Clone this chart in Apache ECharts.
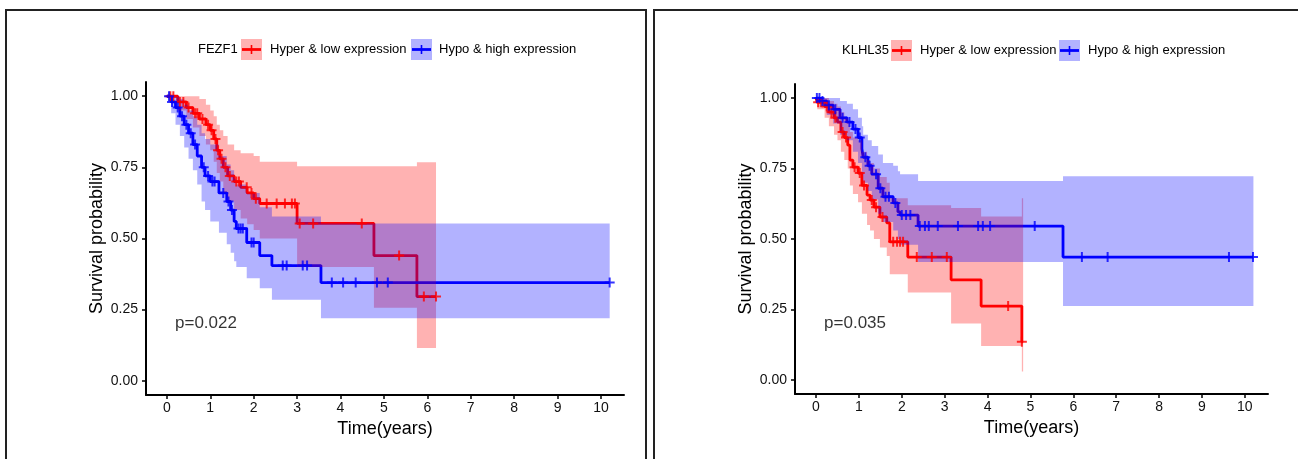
<!DOCTYPE html>
<html><head><meta charset="utf-8">
<script src="https://cdn.jsdelivr.net/npm/echarts@6/dist/echarts.min.js"></script>
<style>html,body{margin:0;padding:0;background:#fff}#c{width:1298px;height:459px}</style>
</head><body><div id="c"></div>
<script>
// ---------- data ----------
const xTicks = [0,1,2,3,4,5,6,7,8,9,10];
const yTicks = [0,0.25,0.5,0.75,1];
const groupNames = ['Hyper & low expression','Hypo & high expression'];
const geneNames = ['FEZF1','KLHL35'];
const pValues = ['p=0.022','p=0.035'];
const xTitle = 'Time(years)';
const yTitle = 'Survival probability';

// FEZF1 - Hyper & low expression
const fezf1HyperTime  = [0,0.25,0.45,0.6,0.75,0.9,1.0,1.08,1.15,1.22,1.3,1.4,1.55,1.7,1.85,2.0,2.14,3.0,4.77,5.76,6.2];
const fezf1HyperSurv  = [1.0,0.98,0.96,0.94,0.92,0.90,0.88,0.85,0.81,0.78,0.75,0.72,0.70,0.68,0.66,0.64,0.623,0.553,0.44,0.296,0.296];
const fezf1HyperUpper = [1.0,1.0,1.0,1.0,0.99,0.97,0.95,0.93,0.90,0.88,0.86,0.83,0.81,0.80,0.80,0.79,0.77,0.754,0.754,0.768,0.768];
const fezf1HyperLower = [1.0,0.95,0.92,0.89,0.86,0.83,0.81,0.77,0.73,0.70,0.66,0.63,0.60,0.57,0.55,0.53,0.50,0.40,0.257,0.115,0.115];
const fezf1HyperCensor = [0.08,0.15,0.3,0.38,0.5,0.65,0.7,0.82,0.95,1.03,1.12,1.18,1.26,1.35,1.45,1.6,1.66,1.84,1.95,2.05,2.3,2.53,2.72,2.88,2.95,3.06,3.37,4.49,5.35,5.92,6.2];

// FEZF1 - Hypo & high expression
const fezf1HypoTime  = [0,0.1,0.2,0.3,0.4,0.5,0.6,0.7,0.8,0.88,1.0,1.2,1.38,1.47,1.55,1.6,1.84,2.14,2.42,3.55,10.2];
const fezf1HypoSurv  = [1.0,0.98,0.96,0.93,0.90,0.87,0.83,0.79,0.75,0.72,0.70,0.66,0.63,0.60,0.56,0.535,0.486,0.44,0.405,0.345,0.345];
const fezf1HypoUpper = [1.0,1.0,1.0,0.99,0.97,0.95,0.93,0.90,0.87,0.85,0.83,0.79,0.76,0.74,0.71,0.69,0.66,0.61,0.577,0.553,0.553];
const fezf1HypoLower = [1.0,0.94,0.90,0.86,0.82,0.78,0.74,0.69,0.63,0.60,0.56,0.52,0.48,0.45,0.42,0.40,0.36,0.325,0.285,0.22,0.22];
const fezf1HypoCensor = [0.05,0.12,0.25,0.35,0.45,0.55,0.65,0.85,0.95,1.05,1.1,1.3,1.42,1.5,1.65,1.7,1.75,1.95,2.0,2.67,2.76,3.13,3.23,3.8,4.06,4.35,4.84,5.09,10.2];

// KLHL35 - Hyper & low expression
const klhl35HyperTime  = [0,0.03,0.2,0.3,0.42,0.5,0.58,0.66,0.74,0.79,0.86,0.98,1.07,1.19,1.26,1.35,1.49,1.65,1.72,2.14,3.15,3.85,4.8,4.83];
const klhl35HyperSurv  = [1.0,0.985,0.97,0.95,0.93,0.915,0.88,0.86,0.833,0.78,0.755,0.734,0.69,0.656,0.638,0.613,0.578,0.557,0.49,0.436,0.355,0.262,0.135,0.135];
const klhl35HyperUpper = [1.0,1.0,1.0,0.99,0.98,0.97,0.95,0.93,0.915,0.88,0.86,0.85,0.81,0.78,0.77,0.75,0.72,0.70,0.645,0.62,0.61,0.58,0.645,0.645];
const klhl35HyperLower = [1.0,0.96,0.93,0.90,0.87,0.85,0.81,0.78,0.75,0.69,0.66,0.63,0.59,0.55,0.53,0.50,0.47,0.44,0.375,0.31,0.2,0.12,0.03,0.03];
const klhl35HyperCensor = [0.05,0.12,0.25,0.36,0.45,0.62,0.7,0.9,1.02,1.12,1.3,1.4,1.55,1.8,1.89,1.96,2.03,2.35,2.7,3.05,4.48,4.8];

// KLHL35 - Hypo & high expression
const klhl35HypoTime  = [0,0.1,0.25,0.4,0.56,0.72,0.86,0.98,1.07,1.1,1.21,1.3,1.45,1.56,1.8,1.91,1.96,2.38,5.76,10.2];
const klhl35HypoSurv  = [1.0,0.99,0.975,0.96,0.93,0.915,0.89,0.86,0.82,0.79,0.76,0.73,0.68,0.65,0.628,0.596,0.585,0.546,0.436,0.436];
const klhl35HypoUpper = [1.0,1.0,1.0,1.0,0.99,0.98,0.96,0.93,0.90,0.87,0.85,0.83,0.80,0.77,0.76,0.74,0.73,0.706,0.723,0.723];
const klhl35HypoLower = [1.0,0.97,0.94,0.91,0.87,0.85,0.81,0.77,0.73,0.70,0.67,0.64,0.59,0.56,0.53,0.50,0.48,0.418,0.262,0.262];
const klhl35HypoCensor = [0.02,0.08,0.15,0.3,0.45,0.62,0.78,0.92,1.02,1.15,1.25,1.4,1.5,1.62,1.7,1.85,2.0,2.1,2.2,2.42,2.54,2.63,2.84,3.31,3.78,3.89,4.06,5.1,6.2,6.8,9.63,10.19];

// ---------- styles ----------
const FONT = "'Liberation Sans', Arial, sans-serif";
const RED = '#FF0000', BLUE = '#0000FF';
const RED_FILL = 'rgba(255,0,0,0.3)', BLUE_FILL = 'rgba(0,0,255,0.3)';
const PLUS = 'path://M4,0 H6 V4 H10 V6 H6 V10 H4 V6 H0 V4 H4 Z';

function stepValue(times, surv, t) {
  let v = surv[0];
  for (let i = 0; i < times.length; i++) { if (times[i] <= t + 1e-9) v = surv[i]; }
  return v;
}
function lineSeries(name, times, surv, color, ai) {
  return { type:'line', name, xAxisIndex:ai, yAxisIndex:ai, step:'end', symbol:'none', z:2, silent:true,
    lineStyle:{ color, width:2.8 }, data: times.map((t,i)=>[t, surv[i]]) };
}
function bandSeries(times, upper, lower, fill, ai) {
  return { type:'custom', xAxisIndex:ai, yAxisIndex:ai, z:3, silent:true, clip:false,
    data:[[times[0], upper[0]]],
    renderItem: function(params, api) {
      const pts = [];
      for (let i = 0; i < times.length - 1; i++) {
        pts.push(api.coord([times[i], upper[i]]), api.coord([times[i+1], upper[i]]));
      }
      for (let i = times.length - 2; i >= 0; i--) {
        pts.push(api.coord([times[i+1], lower[i]]), api.coord([times[i], lower[i]]));
      }
      return { type:'polygon', shape:{ points: pts }, style:{ fill, stroke:null } };
    } };
}
function censorSeries(times, surv, censor, color, ai) {
  return { type:'scatter', xAxisIndex:ai, yAxisIndex:ai, z:4, silent:true, symbol:PLUS, symbolSize:10,
    itemStyle:{ color }, data: censor.map(t=>[t, stepValue(times, surv, t)]) };
}
function pvalSeries(text, ai) {
  return { type:'scatter', xAxisIndex:ai, yAxisIndex:ai, z:5, silent:true, symbolSize:1,
    itemStyle:{ color:'rgba(0,0,0,0)' },
    label:{ show:true, position:[0,0], align:'left', verticalAlign:'middle', formatter:text,
      fontSize:17, color:'#000', fontFamily:FONT },
    data:[[0.2, 0.2]] };
}
function xAxis(gi, min, max) {
  return { type:'value', gridIndex:gi, min, max, name:xTitle, nameLocation:'middle', nameGap:21,
    nameTextStyle:{ fontSize:18, color:'#000', fontFamily:FONT },
    axisLine:{ show:true, onZero:false, lineStyle:{ color:'#000', width:2 } },
    axisTick:{ show:true, customValues:xTicks, length:4, lineStyle:{ color:'#000', width:1.5 } },
    axisLabel:{ customValues:xTicks, fontSize:14, color:'#111', fontFamily:FONT, margin:6 },
    splitLine:{ show:false } };
}
function yAxis(gi) {
  return { type:'value', gridIndex:gi, min:-0.05, max:1.05, name:yTitle, nameLocation:'middle', nameGap:40,
    nameTextStyle:{ fontSize:18, color:'#000', fontFamily:FONT },
    axisLine:{ show:true, onZero:false, lineStyle:{ color:'#000', width:2 } },
    axisTick:{ show:true, customValues:yTicks, length:4, lineStyle:{ color:'#000', width:1.5 } },
    axisLabel:{ customValues:yTicks, fontSize:14, color:'#111', fontFamily:FONT, margin:8,
      formatter: v => v.toFixed(2) },
    splitLine:{ show:false } };
}
function legendGraphics(x, y, gene, keyX1, textX1, keyX2, textX2) {
  const els = [];
  els.push({ type:'text', left:x, top:y-6, style:{ text:gene, fontSize:13, fill:'#000', fontFamily:FONT } });
  [[keyX1, textX1, RED, RED_FILL, groupNames[0]], [keyX2, textX2, BLUE, BLUE_FILL, groupNames[1]]].forEach(k => {
    els.push({ type:'rect', shape:{ x:k[0], y:y-10, width:21, height:21 }, style:{ fill:k[3] } });
    els.push({ type:'line', shape:{ x1:k[0]+1, y1:y+0.5, x2:k[0]+20, y2:y+0.5 }, style:{ stroke:k[2], lineWidth:2.8 } });
    els.push({ type:'line', shape:{ x1:k[0]+10.5, y1:y-4, x2:k[0]+10.5, y2:y+5 }, style:{ stroke:k[2], lineWidth:1.6 } });
    els.push({ type:'text', left:k[1], top:y-6, style:{ text:k[4], fontSize:13, fill:'#000', fontFamily:FONT } });
  });
  return els;
}

const chart = echarts.init(document.getElementById('c'));
chart.setOption({
  animation:false,
  backgroundColor:'#fff',
  grid:[
    { left:146, top:82, width:478, height:313 },
    { left:795, top:84, width:473, height:310 }
  ],
  xAxis:[ xAxis(0, -0.48, 10.53), xAxis(1, -0.49, 10.54) ],
  yAxis:[ yAxis(0), yAxis(1) ],
  graphic:[
    { type:'rect', shape:{ x:6, y:10, width:640, height:470 }, style:{ fill:null, stroke:'#222', lineWidth:2 } },
    { type:'rect', shape:{ x:654, y:10, width:660, height:470 }, style:{ fill:null, stroke:'#222', lineWidth:2 } },
    ...legendGraphics(198, 49, geneNames[0], 241, 270, 411, 439),
    ...legendGraphics(842, 50, geneNames[1], 891, 920, 1059, 1088)
  ],
  series:[
    lineSeries(groupNames[0], fezf1HyperTime, fezf1HyperSurv, RED, 0),
    lineSeries(groupNames[1], fezf1HypoTime, fezf1HypoSurv, BLUE, 0),
    bandSeries(fezf1HyperTime, fezf1HyperUpper, fezf1HyperLower, RED_FILL, 0),
    bandSeries(fezf1HypoTime, fezf1HypoUpper, fezf1HypoLower, BLUE_FILL, 0),
    censorSeries(fezf1HyperTime, fezf1HyperSurv, fezf1HyperCensor, RED, 0),
    censorSeries(fezf1HypoTime, fezf1HypoSurv, fezf1HypoCensor, BLUE, 0),
    pvalSeries(pValues[0], 0),
    lineSeries(groupNames[0], klhl35HyperTime, klhl35HyperSurv, RED, 1),
    lineSeries(groupNames[1], klhl35HypoTime, klhl35HypoSurv, BLUE, 1),
    bandSeries(klhl35HyperTime, klhl35HyperUpper, klhl35HyperLower, RED_FILL, 1),
    bandSeries(klhl35HypoTime, klhl35HypoUpper, klhl35HypoLower, BLUE_FILL, 1),
    censorSeries(klhl35HyperTime, klhl35HyperSurv, klhl35HyperCensor, RED, 1),
    censorSeries(klhl35HypoTime, klhl35HypoSurv, klhl35HypoCensor, BLUE, 1),
    pvalSeries(pValues[1], 1)
  ]
});
</script>
</body></html>
